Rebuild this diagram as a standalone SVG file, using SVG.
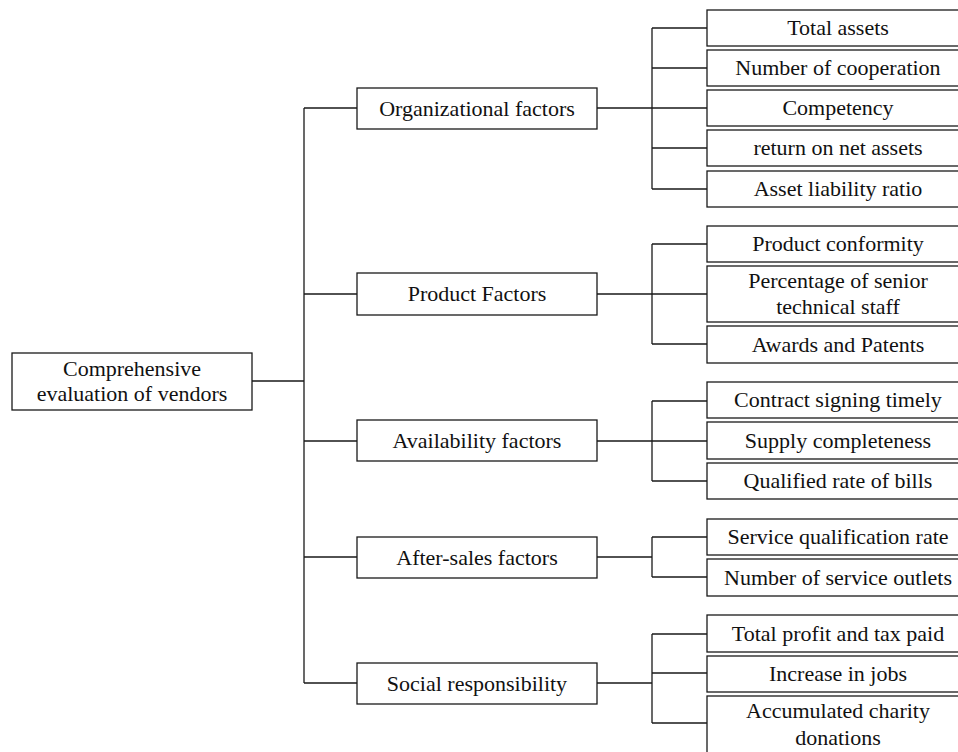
<svg xmlns="http://www.w3.org/2000/svg" width="958" height="752" viewBox="0 0 958 752">
<style>
rect{fill:#fff;stroke:#1a1a1a;stroke-width:1.3}
text{font-family:"Liberation Serif","Times New Roman",serif;font-size:22px;fill:#111;text-anchor:middle}
#connectors path{fill:none;stroke:#1a1a1a;stroke-width:1.3}
</style>
<rect x="0" y="0" width="958" height="752" style="fill:#fff;stroke:none"/>
<g id="connectors">
<path d="M252 381H304M304 108V683M304 108H357M304 294H357M304 441H357M304 557H357M304 683H357"/>
<path d="M597 108H652M652 28V189M652 28H707M652 68H707M652 148H707M652 189H707M652 108H707"/>
<path d="M597 294H652M652 244V344M652 244H707M652 294H707M652 344H707"/>
<path d="M597 441H652M652 401V481M652 401H707M652 441H707M652 481H707"/>
<path d="M597 557H652M652 537V577M652 537H707M652 577H707"/>
<path d="M597 683H652M652 634V723M652 634H707M652 673H707M652 723H707"/>
</g>
<g id="root"><rect x="12" y="353" width="240" height="57"/><text x="132" y="376">Comprehensive</text><text x="132" y="401">evaluation of vendors</text></g>
<g id="org"><rect x="357" y="88" width="240" height="41"/><text x="477" y="116">Organizational factors</text></g>
<g id="product"><rect x="357" y="273" width="240" height="42"/><text x="477" y="301">Product Factors</text></g>
<g id="availability"><rect x="357" y="420" width="240" height="41"/><text x="477" y="448">Availability factors</text></g>
<g id="aftersales"><rect x="357" y="537" width="240" height="41"/><text x="477" y="565">After-sales factors</text></g>
<g id="social"><rect x="357" y="663" width="240" height="41"/><text x="477" y="691">Social responsibility</text></g>
<g id="total-assets"><rect x="707" y="10" width="262" height="36"/><text x="838" y="35">Total assets</text></g>
<g id="num-coop"><rect x="707" y="50" width="262" height="36"/><text x="838" y="75">Number of cooperation</text></g>
<g id="competency"><rect x="707" y="90" width="262" height="36"/><text x="838" y="115">Competency</text></g>
<g id="return"><rect x="707" y="130" width="262" height="36"/><text x="838" y="155">return on net assets</text></g>
<g id="asset-liability"><rect x="707" y="171" width="262" height="36"/><text x="838" y="196">Asset liability ratio</text></g>
<g id="conformity"><rect x="707" y="226" width="262" height="36"/><text x="838" y="251">Product conformity</text></g>
<g id="percentage"><rect x="707" y="266" width="262" height="56"/><text x="838" y="288">Percentage of senior</text><text x="838" y="314">technical staff</text></g>
<g id="awards"><rect x="707" y="326" width="262" height="37"/><text x="838" y="352">Awards and Patents</text></g>
<g id="contract"><rect x="707" y="382" width="262" height="36"/><text x="838" y="407">Contract signing timely</text></g>
<g id="supply"><rect x="707" y="422" width="262" height="37"/><text x="838" y="448">Supply completeness</text></g>
<g id="qualified"><rect x="707" y="463" width="262" height="36"/><text x="838" y="488">Qualified rate of bills</text></g>
<g id="service-qual"><rect x="707" y="519" width="262" height="36"/><text x="838" y="544">Service qualification rate</text></g>
<g id="outlets"><rect x="707" y="559" width="262" height="37"/><text x="838" y="585">Number of service outlets</text></g>
<g id="profit"><rect x="707" y="615" width="262" height="37"/><text x="838" y="641">Total profit and tax paid</text></g>
<g id="jobs"><rect x="707" y="656" width="262" height="36"/><text x="838" y="681">Increase in jobs</text></g>
<g id="charity"><rect x="707" y="696" width="262" height="64"/><text x="838" y="718">Accumulated charity</text><text x="838" y="745">donations</text></g>
</svg>
